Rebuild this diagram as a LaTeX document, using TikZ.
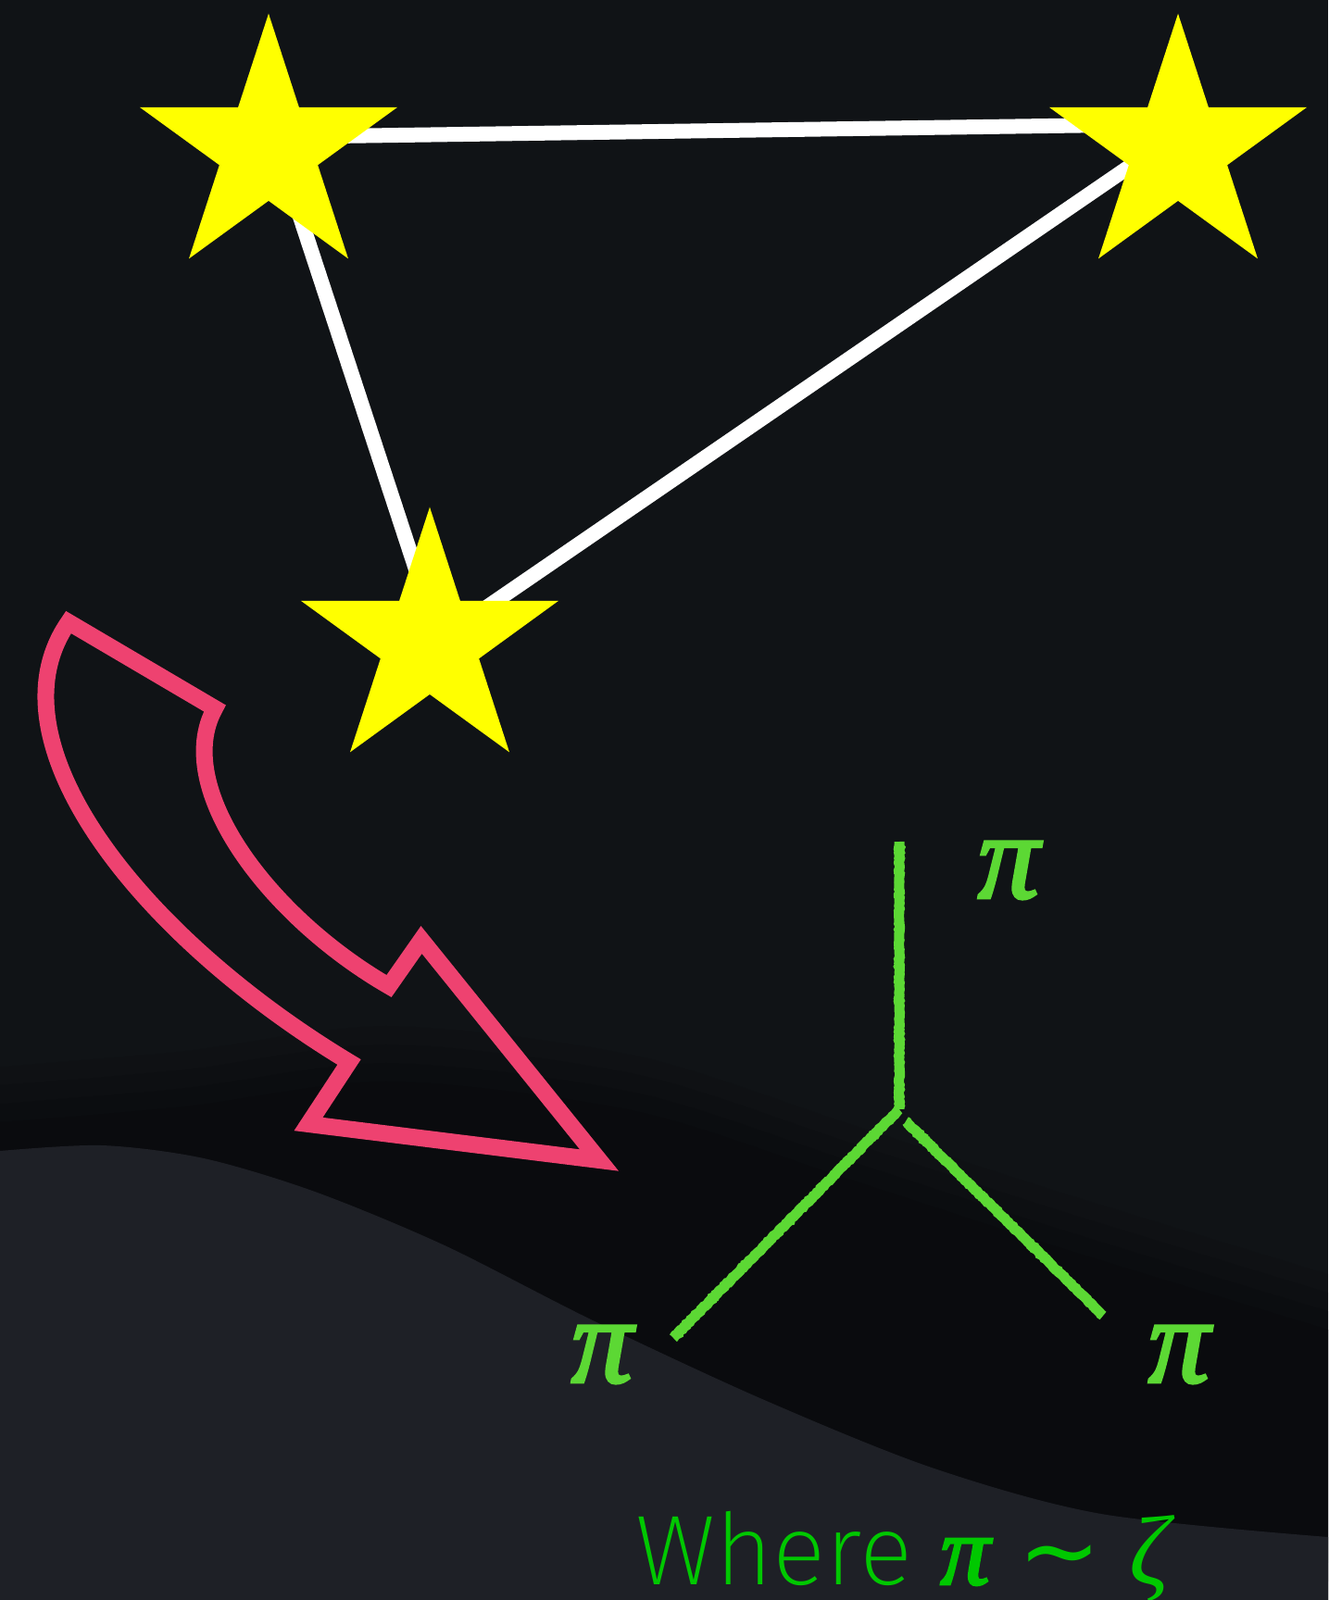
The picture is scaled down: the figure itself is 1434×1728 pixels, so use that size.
\documentclass[tikz,border=0pt]{standalone}
\usepackage{fontspec}
\newfontfamily\wherefont{Fira Sans ExtraLight}
\newfontfamily\greekfont{Liberation Serif}
\newfontfamily\pifont{Liberation Serif Italic}[FakeBold=2.5]
\newfontfamily\symfont{DejaVu Sans}
\usetikzlibrary{shapes.geometric,decorations.pathmorphing}

\definecolor{skybg}{RGB}{16,19,22}
\definecolor{shadowbg}{RGB}{10,11,14}
\definecolor{groundbg}{RGB}{30,32,38}
\definecolor{starcol}{RGB}{255,255,0}
\definecolor{arrowcol}{RGB}{238,66,112}
\definecolor{chalkgreen}{RGB}{92,216,52}
\definecolor{textgreen}{RGB}{0,200,0}

\tikzset{
  starnode/.style={star, star points=5, star point ratio=2.618, minimum size=292.6pt, inner sep=0pt, fill=starcol},
  bond/.style={white, line width=16pt},
  chalk/.style={chalkgreen, line width=11pt, decorate, decoration={random steps, segment length=2pt, amplitude=0.6pt}},
  pilabel/.style={chalkgreen, inner sep=0pt, font=\pifont\fontsize{132}{140}\selectfont},
}

\begin{document}
\begin{tikzpicture}[x=1pt,y=-1pt]
\useasboundingbox (0,0) rectangle (1434,1728);

% background with the dark wave
\fill[skybg] (0,0) rectangle (1434,1728);
\foreach \d/\op in {60/0.15,40/0.25,20/0.35,0/1}{
  \fill[shadowbg, opacity=\op, yshift=\d pt] plot[smooth] coordinates {(0,1212) (200,1195) (420,1168) (686,1200) (915,1273) (1143,1347) (1434,1436)}
    -- (1434,1728) -- (0,1728) -- cycle;
}
\fill[groundbg] plot[smooth] coordinates {(0,1243) (110,1237) (220,1251) (340,1287) (480,1345) (640,1426) (823,1511) (1006,1585) (1189,1635) (1434,1660)}
  -- (1434,1728) -- (0,1728) -- cycle;

% the three stars and their bonds
\coordinate (cA) at (290,161);
\coordinate (cB) at (1272,161);
\coordinate (cC) at (464,694);

\draw[bond] ([yshift=13pt]cA) -- ([yshift=27pt]cB);
\draw[bond] ([xshift=10pt]cA) -- ([xshift=11pt]cC);
\draw[bond] ([yshift=17pt]cB) -- ([yshift=-4pt]cC);

\node[starnode] (starA) at (cA) {};
\node[starnode] (starB) at (cB) {};
\node[starnode] (starC) at (cC) {};

% curved arrow outline
\draw[arrowcol, line width=18pt, line join=miter]
  (74,672) -- (232,765) .. controls (185,850) and (290,990) .. (420,1065)
  -- (455,1015) -- (647,1253) -- (333,1214) -- (377,1147)
  .. controls (150,1010) and (-15,800) .. cycle;

% three pion vertex
\coordinate (vtx) at (971,1198);
\coordinate (legT) at (971,909);
\coordinate (legL) at (727,1445);
\coordinate (legR) at (1191,1421);
\draw[chalk] (vtx) -- (legT);
\draw[chalk] (vtx) -- (legL);
\draw[chalk] ([xshift=7pt,yshift=-13pt]vtx) -- (legR);

\node[pilabel] (piT) at (1089,940) {π};
\node[pilabel] (piL) at (650,1463) {π};
\node[pilabel] (piR) at (1273,1463) {π};

\node[textgreen, anchor=base west, inner sep=0pt, font=\fontsize{107}{110}\selectfont] (where) at (686,1711)
  {\wherefont Where {\pifont π} {\symfont ∼} {\greekfont\itshape ζ}};
\end{tikzpicture}
\end{document}
